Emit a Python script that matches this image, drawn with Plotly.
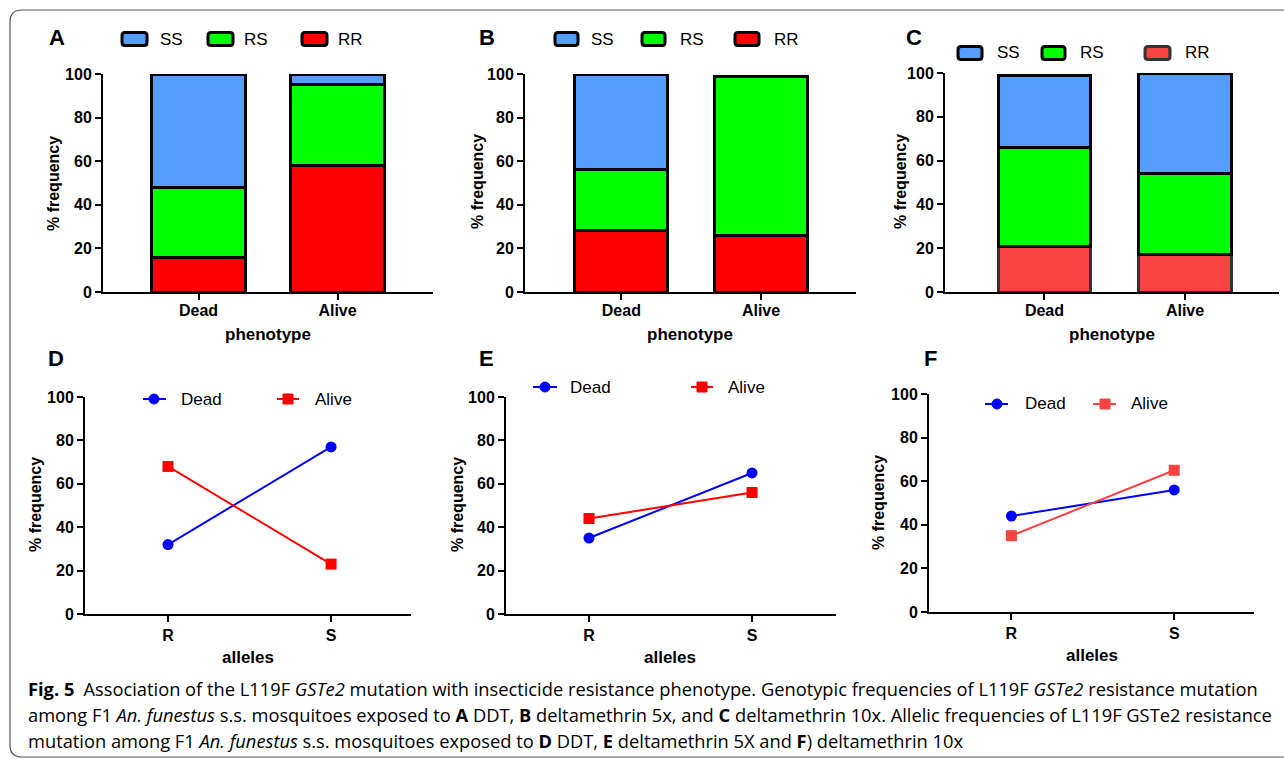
import plotly.graph_objects as go

W, H = 1284, 759

# ---------------- data ----------------
phenotypes = ["Dead", "Alive"]
genotypes = ["SS", "RS", "RR"]
alleles = ["R", "S"]

# genotypic frequencies (%) - stacked bars
A_RR = [16, 58]
A_RS = [32, 37]
A_SS = [52, 5]
B_RR = [28, 26]
B_RS = [28, 73]
B_SS = [44, 0]
C_RR = [21, 17]
C_RS = [45, 37]
C_SS = [33, 46]

# allelic frequencies (%)
D_dead = [32, 77]
D_alive = [68, 23]
E_dead = [35, 65]
E_alive = [44, 56]
F_dead = [44, 56]
F_alive = [35, 65]

panel_letters = ["A", "B", "C", "D", "E", "F"]
caption_lines = [
    "<b>Fig. 5</b>\u2002Association of the L119F <i>GSTe2</i> mutation with insecticide resistance phenotype. "
    "Genotypic frequencies of L119F <i>GSTe2</i> resistance mutation",
    "among F1 <i>An. funestus</i> s.s. mosquitoes exposed to <b>A</b> DDT, <b>B</b> deltamethrin 5x, and "
    "<b>C</b> deltamethrin 10x. Allelic frequencies of L119F GSTe2 resistance",
    "mutation among F1 <i>An. funestus</i> s.s. mosquitoes exposed to <b>D</b> DDT, <b>E</b> deltamethrin 5X "
    "and <b>F</b>) deltamethrin 10x",
]

# ---------------- styles ----------------
C_SSc = "#559DFF"
C_RSc = "#00FF00"
C_RRc = "#FF0000"
C_RR_light = "#F94343"
BLUE = "#0000FF"
RED = "#FF0000"
FONT = "Liberation Sans, Arial, sans-serif"
CAPFONT = "Open Sans, Noto Sans, sans-serif"


def px(x):
    return x / W


def py(y):
    return 1 - y / H


fig = go.Figure()

# axis geometry in pixels: (x0, x1, ytop, ybottom, xrange)
geo = {
    1: (103, 433, 74, 292, [-0.687, 1.687]),
    2: (525, 856, 74, 292, [-0.69, 1.68]),
    3: (945, 1279, 73, 292, [-0.708, 1.669]),
    4: (85, 411, 397, 614, [-0.509, 1.49]),
    5: (506, 836, 397, 614, [-0.509, 1.515]),
    6: (929, 1254, 394, 612, [-0.506, 1.49]),
}

layout_axes = {}
for i, (x0, x1, yt, yb, xr) in geo.items():
    sx = "" if i == 1 else str(i)
    layout_axes["xaxis" + sx] = dict(
        domain=[px(x0), px(x1)], anchor="y" + sx, range=xr, type="category",
        showline=True, linecolor="black", linewidth=2, ticks="outside",
        ticklen=6, tickwidth=2, tickcolor="black", showgrid=False, zeroline=False,
        tickfont=dict(family=FONT, size=16, color="black", weight="bold"),
        ticklabelstandoff=-3 if i <= 3 else 0,
        fixedrange=True, automargin=False,
    )
    layout_axes["yaxis" + sx] = dict(
        domain=[py(yb), py(yt)], anchor="x" + sx, range=[0, 100],
        tickvals=[0, 20, 40, 60, 80, 100],
        showline=True, linecolor="black", linewidth=2, ticks="outside",
        ticklen=6, tickwidth=2, tickcolor="black", showgrid=False, zeroline=False,
        tickfont=dict(family=FONT, size=16, color="black", weight="bold"),
        fixedrange=True, automargin=False,
    )

bar_sets = [
    (1, A_RR, A_RS, A_SS, C_RRc, "black", 0.67),
    (2, B_RR, B_RS, B_SS, C_RRc, "black", 0.665),
    (3, C_RR, C_RS, C_SS, C_RR_light, "#333333", 0.66),
]
for i, rr, rs, ss, rrcol, rrline, bw in bar_sets:
    sx = "" if i == 1 else str(i)
    for name, vals, col, lc in [("RR", rr, rrcol, rrline), ("RS", rs, C_RSc, "black"),
                                 ("SS", ss, C_SSc, "black")]:
        fig.add_trace(go.Bar(
            x=phenotypes, y=vals, name=name, width=bw,
            marker=dict(color=col, line=dict(color=lc, width=3)),
            xaxis="x" + sx, yaxis="y" + sx, showlegend=False,
        ))

line_sets = [
    (4, D_dead, D_alive, RED),
    (5, E_dead, E_alive, RED),
    (6, F_dead, F_alive, C_RR_light),
]
for i, dead, alive, acol in line_sets:
    sx = str(i)
    fig.add_trace(go.Scatter(
        x=alleles, y=dead, name="Dead", mode="lines+markers",
        line=dict(color=BLUE, width=2), marker=dict(symbol="circle", size=11, color=BLUE),
        xaxis="x" + sx, yaxis="y" + sx, showlegend=False, cliponaxis=False,
    ))
    fig.add_trace(go.Scatter(
        x=alleles, y=alive, name="Alive", mode="lines+markers",
        line=dict(color=acol, width=2), marker=dict(symbol="square", size=11, color=acol),
        xaxis="x" + sx, yaxis="y" + sx, showlegend=False, cliponaxis=False,
    ))

annotations = []
shapes = []


def text(x, y, s, size, bold=False, xanchor="center", angle=0, family=FONT):
    annotations.append(dict(
        x=px(x), y=py(y), xref="paper", yref="paper", text=s, showarrow=False,
        xanchor=xanchor, yanchor="middle", textangle=angle,
        font=dict(family=family, size=size, color="black", weight="bold" if bold else "normal"),
    ))


def rrect(x0, y0, x1, y1, r, fill, line, lw):
    X0, X1 = px(x0), px(x1)
    rx, ry = r / W, r / H
    Y0, Y1 = py(y0), py(y1)  # Y0 top (larger)
    path = (f"M {X0+rx},{Y0} L {X1-rx},{Y0} Q {X1},{Y0} {X1},{Y0-ry} "
            f"L {X1},{Y1+ry} Q {X1},{Y1} {X1-rx},{Y1} L {X0+rx},{Y1} "
            f"Q {X0},{Y1} {X0},{Y1+ry} L {X0},{Y0-ry} Q {X0},{Y0} {X0+rx},{Y0} Z")
    shapes.append(dict(type="path", path=path, xref="paper", yref="paper",
                       fillcolor=fill, line=dict(color=line, width=lw)))


# panel letters
for s, (x, y) in zip(panel_letters, [(57, 38), (487, 38), (914, 38), (56, 358), (486, 358), (930, 358)]):
    text(x, y, s, 22, bold=True)

# y titles
for x, y in [(53, 184), (477, 182), (900, 182), (35, 505), (457, 505), (878, 503)]:
    text(x, y, "% frequency", 16, bold=True, angle=-90)

# x titles
for x, y in [(268, 334), (690, 334), (1112, 334)]:
    text(x, y, "phenotype", 17, bold=True)
for x, y in [(248, 657), (670, 657), (1092, 655)]:
    text(x, y, "alleles", 17, bold=True)

# bar legends
bar_leg = [
    (39, [(122, 147, 158), (208, 233, 242), (302, 327, 336)], [C_SSc, C_RSc, C_RRc], ["black"] * 3),
    (39, [(555, 578, 589), (642, 665, 678), (735, 759, 772)], [C_SSc, C_RSc, C_RRc], ["black"] * 3),
    (53, [(958, 982, 995), (1042, 1065, 1078), (1145, 1170, 1183)], [C_SSc, C_RSc, C_RR_light],
     ["black", "black", "#333333"]),
]
for y, items, cols, lcs in bar_leg:
    for (a, b, t), g, c, lc in zip(items, genotypes, cols, lcs):
        rrect(a, y - 6.5, b, y + 6.5, 3, c, lc, 3)
        text(t, y, g, 17, xanchor="left")

# line legends
line_leg = [
    (399, (143, 166, 154, 179), (277, 299, 288, 313), RED),
    (387, (533, 557, 545, 568), (691, 713, 702, 726), RED),
    (404, (985, 1008, 997, 1023), (1093, 1116, 1105, 1129), C_RR_light),
]
for y, d, a, acol in line_leg:
    for (l0, l1, m, t), col, sym, name in [(d, BLUE, "circle", "Dead"), (a, acol, "rect", "Alive")]:
        shapes.append(dict(type="line", xref="paper", yref="paper", x0=px(l0), x1=px(l1),
                           y0=py(y), y1=py(y), line=dict(color=col, width=2)))
        shapes.append(dict(type=sym, xref="paper", yref="paper", x0=px(m - 5), x1=px(m + 5),
                           y0=py(y - 5), y1=py(y + 5), fillcolor=col, line=dict(color=col, width=1)))
        text(t, y, name, 17, xanchor="left")

# caption
for s, y in zip(caption_lines, [688, 714, 740]):
    text(26, y, s, 18.3, xanchor="left", family=CAPFONT)

# rounded frame
X0, Y0 = px(10), py(10)
Y1 = py(757)
rx, ry = 12 / W, 12 / H
frame = (f"M {px(1300)},{Y0} L {X0+rx},{Y0} Q {X0},{Y0} {X0},{Y0-ry} "
         f"L {X0},{Y1+ry} Q {X0},{Y1} {X0+rx},{Y1} L {px(1300)},{Y1}")
shapes.append(dict(type="path", path=frame, xref="paper", yref="paper",
                   line=dict(color="#555555", width=1.2)))

fig.update_layout(
    width=W, height=H, margin=dict(l=0, r=0, t=0, b=0, autoexpand=False),
    paper_bgcolor="white", plot_bgcolor="white",
    barmode="stack", bargap=0.3, showlegend=False,
    annotations=annotations, shapes=shapes,
    **layout_axes,
)

fig.write_html(
    "out.html",
    config={"displayModeBar": False},
    post_script="document.body.style.margin='0px';document.body.style.overflow='hidden';",
)
